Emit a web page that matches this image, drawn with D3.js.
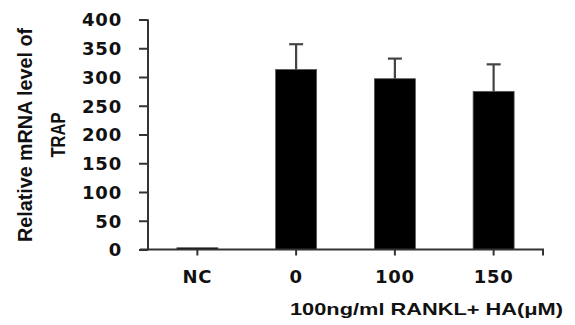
<!DOCTYPE html>
<html><head><meta charset="utf-8">
<script src="https://cdn.jsdelivr.net/npm/d3@7"></script>
<style>
html,body{margin:0;padding:0;background:#fff;}
svg{display:block;}
</style></head>
<body>
<script>
const categories = ["NC", "0", "100", "150"];
const means = [3, 313, 297, 275];
const errors = [0, 44, 35, 47];
const yTicks = [0, 50, 100, 150, 200, 250, 300, 350, 400];
const yTitleLines = ["Relative mRNA level of", "TRAP"];
const xTitle = "100ng/ml RANKL+ HA(\u03bcM)";

const W = 575, H = 325;
const svg = d3.select("body").append("svg").attr("width", W).attr("height", H);

const x = d3.scaleBand().domain(categories).range([148, 543]).paddingInner(0.585).paddingOuter(0.2925);
const y = d3.scaleLinear().domain([0, 400]).range([249.5, 19.5]);

const axisColor = "#333";

// bars
svg.append("g").selectAll("rect").data(categories).join("rect")
  .attr("x", d => x(d))
  .attr("width", x.bandwidth())
  .attr("y", (d, i) => y(means[i]))
  .attr("height", (d, i) => y(0) - y(means[i]))
  .attr("fill", "#000")
  .attr("stroke", "#555").attr("stroke-width", 0.8);

// error bars
const eg = svg.append("g").attr("stroke", "#444").attr("stroke-width", 2.2);
categories.forEach((c, i) => {
  if (errors[i] <= 0) return;
  const cx = x(c) + x.bandwidth() / 2;
  eg.append("line").attr("x1", cx).attr("x2", cx).attr("y1", y(means[i])).attr("y2", y(means[i] + errors[i]));
  eg.append("line").attr("x1", cx - 7).attr("x2", cx + 7).attr("y1", y(means[i] + errors[i])).attr("y2", y(means[i] + errors[i]));
});

// y axis
const yAxis = svg.append("g").attr("transform", "translate(148,0)")
  .call(d3.axisLeft(y).tickValues(yTicks).tickSize(9).tickPadding(17).tickFormat(d3.format("d")));
yAxis.select(".domain").attr("stroke", axisColor).attr("stroke-width", 2).attr("d", `M0,${y(400)}V${y(0)}`);
yAxis.selectAll(".tick line").attr("stroke", axisColor).attr("stroke-width", 2);
yAxis.selectAll(".tick text")
  .attr("font-family", "DejaVu Sans").attr("font-weight", "bold").attr("font-size", 18)
  .attr("fill", "#111").attr("dy", "0.35em").style("letter-spacing", "0.8px");

// x axis
const xAxis = svg.append("g").attr("transform", `translate(0,${y(0)})`)
  .call(d3.axisBottom(x).tickSize(6).tickPadding(15));
xAxis.select(".domain").attr("stroke", axisColor).attr("stroke-width", 2)
  .attr("d", "M140,0H543V6");
xAxis.selectAll(".tick line").attr("stroke", axisColor).attr("stroke-width", 2);
xAxis.selectAll(".tick text")
  .attr("font-family", "DejaVu Sans").attr("font-weight", "bold").attr("font-size", 18)
  .attr("fill", "#111").style("letter-spacing", "0.8px");

// y title
const yt = svg.append("g").attr("transform", "translate(0,135) rotate(-90)");
yt.append("text").attr("x", 0).attr("y", 32).attr("text-anchor", "middle")
  .attr("font-family", "Liberation Sans").attr("font-weight", "bold").attr("font-size", 21)
  .attr("textLength", 214).attr("lengthAdjust", "spacingAndGlyphs").attr("fill", "#111")
  .text(yTitleLines[0]);
yt.append("text").attr("x", 0).attr("y", 65).attr("text-anchor", "middle")
  .attr("font-family", "Liberation Sans").attr("font-weight", "bold").attr("font-size", 21)
  .attr("textLength", 45).attr("lengthAdjust", "spacingAndGlyphs").attr("fill", "#111")
  .text(yTitleLines[1]);

// x title
svg.append("text").attr("x", 290).attr("y", 315)
  .attr("font-family", "Liberation Sans").attr("font-weight", "bold").attr("font-size", 17)
  .attr("textLength", 273).attr("lengthAdjust", "spacingAndGlyphs").attr("fill", "#111")
  .text(xTitle);
</script>
</body></html>
